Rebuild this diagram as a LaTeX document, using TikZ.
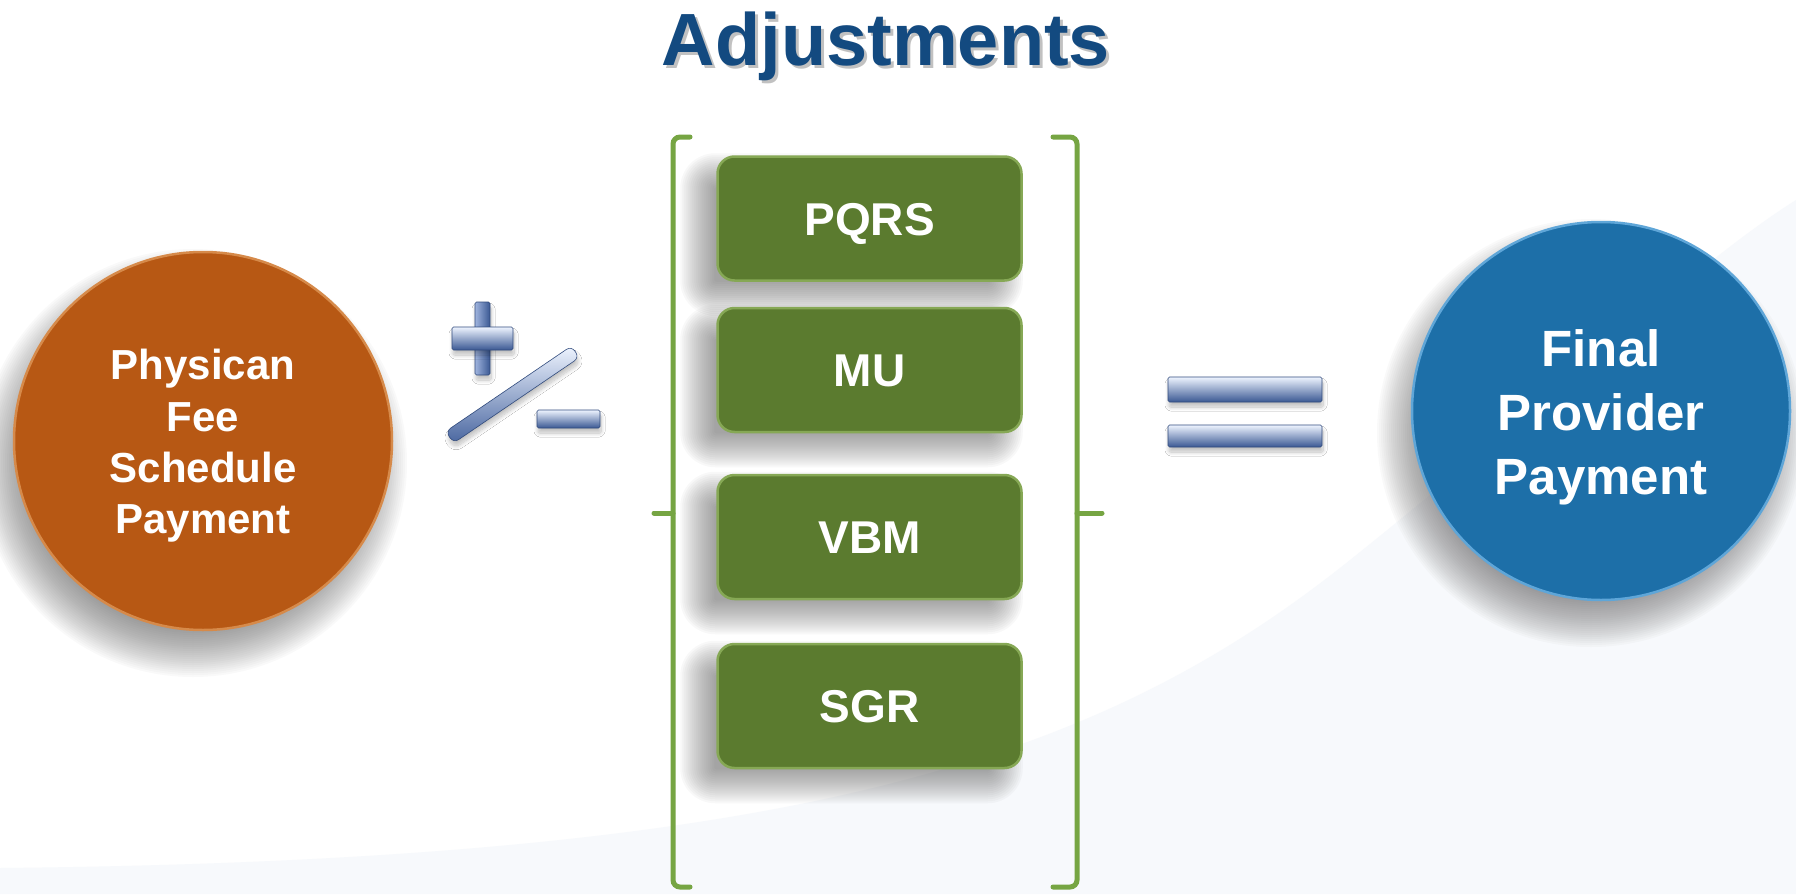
\documentclass[tikz,border=0pt]{standalone}
\usepackage{fontspec}
\setmainfont{Liberation Sans}
\usetikzlibrary{shadows.blur,calc,backgrounds}

\definecolor{titleblue}{HTML}{134A80}
\definecolor{feeorange}{HTML}{B75814}
\definecolor{feerim}{HTML}{D68A4A}
\definecolor{payblue}{HTML}{1D6FA8}
\definecolor{payrim}{HTML}{5FA6D8}
\definecolor{adjgreen}{HTML}{5B7B2F}
\definecolor{adjrim}{HTML}{86A855}
\definecolor{bracegreen}{HTML}{76A543}
\definecolor{barlight}{HTML}{EEF4FF}
\definecolor{barmid}{HTML}{8CA4D6}
\definecolor{bardark}{HTML}{3A5893}
\definecolor{haze}{HTML}{F7F9FC}
\definecolor{shadowgray}{HTML}{5A5A5A}

\tikzset{
  bigdisc/.style={circle, inner sep=0pt, minimum size=378pt, line width=2.5pt},
  disctext/.style={text=white, align=center, inner sep=0pt},
  adjbox/.style={rectangle, rounded corners=17pt, minimum width=304pt,
    minimum height=124pt, fill=adjgreen, draw=adjrim, line width=2.5pt,
    text=white, font=\bfseries\fontsize{46}{50}\selectfont,
    text height=33pt, text depth=0pt},
  softlayer/.style={fill=shadowgray, opacity=#1},
  glassbar/.style={rectangle, inner sep=0pt, top color=barlight,
    middle color=barmid, bottom color=bardark,
    draw=bardark!85!black, line width=0.6pt, rounded corners=1.5pt,
    blur shadow={shadow xshift=1pt, shadow yshift=-5pt,
                 shadow blur radius=4pt, shadow blur steps=12, shadow opacity=25}},
  glassbarv/.style={glassbar, left color=barmid!80!barlight, middle color=barlight!50!barmid,
    right color=bardark},
  slashbar/.style={glassbar, top color=barlight, middle color=barmid!70!barlight,
    bottom color=bardark!80!barmid},
  brace/.style={draw=bracegreen, line width=5pt, rounded corners=7pt, line cap=round}
}

\begin{document}
\begin{tikzpicture}[x=1pt, y=-1pt]
  \useasboundingbox (0,0) rectangle (1796,894);

  % heading
  \node[anchor=base, text=black!40, opacity=0.6,
        font=\bfseries\fontsize{74}{80}\selectfont] (titleshade) at (889,68) {Adjustments};
  \node[anchor=base, text=titleblue,
        font=\bfseries\fontsize{74}{80}\selectfont] (title) at (886,65) {Adjustments};

  % starting payment
  \node[bigdisc, fill=feeorange, draw=feerim] (pfs) at (203,441) {};
  \node[disctext, font=\bfseries\fontsize{42}{51.3}\selectfont]
    (pfstext) at ([yshift=-5pt]pfs.center) {Physican\\Fee\\Schedule\\Payment};

  % plus / minus sign
  \node[glassbarv, minimum width=15pt, minimum height=73pt] (plusv) at (482.5,338.5) {};
  \node[glassbar, minimum width=61pt, minimum height=23pt] (plush) at (482.5,338.5) {};
  \node[slashbar, minimum width=152pt, minimum height=14pt, rounded corners=6pt,
        rotate=34.2] (slash) at (512.5,394.5) {};
  \node[glassbar, minimum width=63pt, minimum height=18pt] (minus) at (568.5,419) {};

  % adjustments
  \node[adjbox] (pqrs) at (869.5,218.5) {PQRS};
  \node[adjbox] (mu)   at (869.5,370)   {MU};
  \node[adjbox] (vbm)  at (869.5,537)   {VBM};
  \node[adjbox] (sgr)  at (869.5,706)   {SGR};

  % bracket around the adjustments
  \draw[brace] (690,137) -- (673,137) -- (673,887) -- (690,887);
  \draw[brace, rounded corners=0pt] (673,513) -- (654,513);
  \draw[brace] (1053,137) -- (1077,137) -- (1077,887) -- (1053,887);
  \draw[brace, rounded corners=0pt] (1077,513) -- (1102,513);

  % equals sign
  \node[glassbar, minimum width=154pt, minimum height=25pt] (eqtop) at (1245,389.5) {};
  \node[glassbar, minimum width=154pt, minimum height=22pt] (eqbot) at (1245,436) {};

  % resulting payment
  \node[bigdisc, fill=payblue, draw=payrim] (fpp) at (1601,411) {};
  \node[disctext, font=\bfseries\fontsize{51}{64}\selectfont]
    (fpptext) at ([yshift=-6pt]fpp.center) {Final\\Provider\\Payment};

  % page, backdrop sweep and soft drop shadows behind everything
  \begin{scope}[on background layer]
    \fill[white] (0,0) rectangle (1796,894);
    \fill[haze] (0,894) -- (0,868) .. controls (800,860) and (1100,760) .. (1350,560)
      .. controls (1550,400) and (1700,260) .. (1796,200) -- (1796,894) -- cycle;
    \foreach \d in {pfs,fpp}{
      \foreach \k in {0,...,23}{
        \pgfmathsetmacro{\rr}{214-2*\k}
        \fill[softlayer=0.032] ([shift={(-10,22)}]\d.center) circle (\rr pt);
      }
    }
    \foreach \b in {pqrs,mu,vbm,sgr}{
      \foreach \k in {0,...,17}{
        \pgfmathsetmacro{\e}{18-2*\k}
        \pgfmathsetmacro{\rc}{max(17+\e,2)}
        \fill[softlayer=0.038, rounded corners=\rc pt]
          ($(\b.north west)+({-18-\e},{16-\e})$) rectangle
          ($(\b.south east)+({-18+\e},{16+\e})$);
      }
    }
  \end{scope}
\end{tikzpicture}
\end{document}
